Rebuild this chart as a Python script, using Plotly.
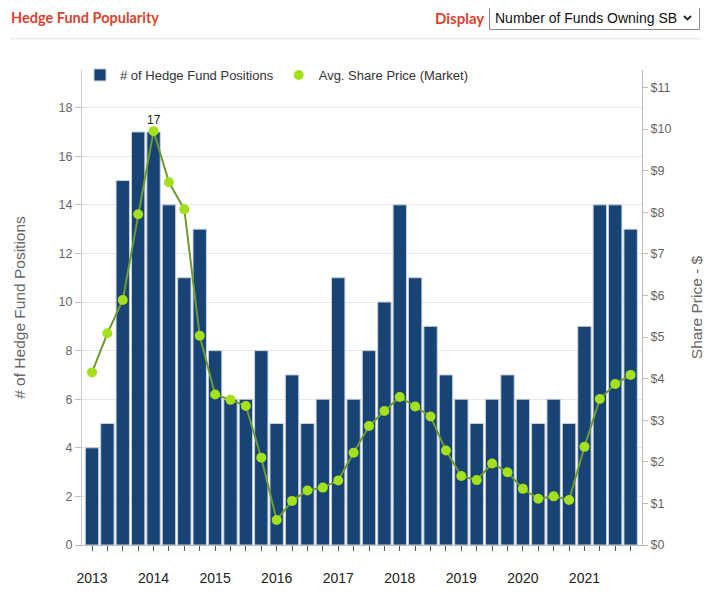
import plotly.graph_objects as go

quarters = [
    "Q1 2013", "Q2 2013", "Q3 2013", "Q4 2013",
    "Q1 2014", "Q2 2014", "Q3 2014", "Q4 2014",
    "Q1 2015", "Q2 2015", "Q3 2015", "Q4 2015",
    "Q1 2016", "Q2 2016", "Q3 2016", "Q4 2016",
    "Q1 2017", "Q2 2017", "Q3 2017", "Q4 2017",
    "Q1 2018", "Q2 2018", "Q3 2018", "Q4 2018",
    "Q1 2019", "Q2 2019", "Q3 2019", "Q4 2019",
    "Q1 2020", "Q2 2020", "Q3 2020", "Q4 2020",
    "Q1 2021", "Q2 2021", "Q3 2021", "Q4 2021",
]
hedge_fund_positions = [
    4, 5, 15, 17, 17, 14, 11, 13, 8, 6, 6, 8,
    5, 7, 5, 6, 11, 6, 8, 10, 14, 11, 9, 7,
    6, 5, 6, 7, 6, 5, 6, 5, 9, 14, 14, 13,
]
avg_share_price = [
    4.15, 5.09, 5.89, 7.95, 9.95, 8.72, 8.07, 5.03, 3.62, 3.49, 3.34, 2.10,
    0.60, 1.06, 1.31, 1.38, 1.55, 2.22, 2.86, 3.22, 3.56, 3.33, 3.09, 2.27,
    1.66, 1.56, 1.96, 1.75, 1.35, 1.11, 1.17, 1.08, 2.36, 3.51, 3.87, 4.09,
]
year_labels = ["2013", "2014", "2015", "2016", "2017", "2018", "2019", "2020", "2021"]

tick_text = []
yi = 0
for q in quarters:
    if q.startswith("Q1"):
        tick_text.append(year_labels[yi])
        yi += 1
    else:
        tick_text.append("")

# page has an 8px body margin; work in page px and convert
OFF = 8
W, H = 721 - OFF, 600 - OFF
L, R, T, B = 82 - OFF, 79, 70 - OFF, 55
PW, PH = W - L - R, H - T - B


def px(x):
    return (x - OFF - L) / PW


def py(y):
    return (H - B - (y - OFF)) / PH


BAR = "#174475"
GREEN = "#a4e01b"
LINE = "#6e9a31"
RED = "#d9432e"

fig = go.Figure()
fig.add_trace(go.Bar(
    x=quarters, y=hedge_fund_positions, name="# of Hedge Fund Positions",
    marker=dict(color=BAR, line=dict(color="#c9d1dc", width=1)),
    yaxis="y", hoverinfo="x+y",
))
fig.add_trace(go.Scatter(
    x=quarters, y=avg_share_price, mode="lines", showlegend=False,
    line=dict(color=LINE, width=2), yaxis="y2", hoverinfo="skip",
))
fig.add_trace(go.Scatter(
    x=quarters, y=avg_share_price, mode="markers", name="Avg. Share Price (Market)",
    marker=dict(color=GREEN, size=10), yaxis="y2",
))

# label for the maximum bar (last occurrence)
mx = max(hedge_fund_positions)
idx = len(hedge_fund_positions) - 1 - hedge_fund_positions[::-1].index(mx)
fig.add_annotation(x=quarters[idx], y=mx, xref="x", yref="y", text=str(mx),
                   showarrow=False, yanchor="bottom", yshift=3,
                   font=dict(size=12, color="#222", family="Liberation Sans"))

# header
fig.add_annotation(x=px(9), y=py(17), xref="paper", yref="paper", text="<b>Hedge Fund Popularity</b>",
                   showarrow=False, xanchor="left", yanchor="middle",
                   font=dict(size=14.5, color=RED, family="Lato"))
fig.add_annotation(x=px(486), y=py(18), xref="paper", yref="paper", text="<b>Display</b>",
                   showarrow=False, xanchor="right", yanchor="middle",
                   font=dict(size=15, color=RED, family="Lato"))
fig.add_shape(type="rect", xref="paper", yref="paper",
              x0=px(489.5), x1=px(699.5), y0=py(6.5), y1=py(29.5),
              line=dict(color="#8a8a8a", width=1), fillcolor="white")
fig.add_annotation(x=px(493), y=py(18), xref="paper", yref="paper", text="Number of Funds Owning SB",
                   showarrow=False, xanchor="left", yanchor="middle",
                   font=dict(size=14, color="#111", family="Liberation Sans"))
fig.add_shape(type="path", xref="paper", yref="paper",
              path=f"M {px(684)} {py(16)} L {px(687.5)} {py(19.5)} L {px(691)} {py(16)}",
              line=dict(color="#222", width=1.8))
fig.add_shape(type="line", xref="paper", yref="paper",
              x0=px(10), x1=px(700), y0=py(38.5), y1=py(38.5),
              line=dict(color="#eeeeee", width=2))

fig.update_layout(
    width=W, height=H,
    margin=dict(l=L, r=R, t=T, b=B),
    paper_bgcolor="white", plot_bgcolor="white",
    font=dict(family="Liberation Sans", color="#666"),
    bargap=0.13,
    showlegend=True,
    legend=dict(orientation="h", x=px(80), y=py(60), xanchor="left", yanchor="top",
                font=dict(size=13, color="#333"), itemwidth=30,
                bgcolor="rgba(0,0,0,0)", traceorder="normal"),
    xaxis=dict(
        type="category", range=[-0.65, 35.74],
        tickmode="array", tickvals=quarters, ticktext=tick_text,
        ticks="outside", ticklen=5, tickcolor="#555", tickwidth=1,
        showline=True, linecolor="#bbbbbb", linewidth=1,
        showgrid=False, zeroline=False,
        tickfont=dict(size=14, color="#222"), ticklabelstandoff=15,
        tickangle=0,
    ),
    yaxis=dict(
        range=[0, 19.55], dtick=2, tick0=0,
        ticks="outside", ticklen=6, tickcolor="#bbbbbb",
        showline=True, linecolor="#cccccc", linewidth=1,
        showgrid=True, gridcolor="#e6e6e6", gridwidth=1, zeroline=False,
        tickfont=dict(size=12.5, color="#666"),
        title=dict(text="# of Hedge Fund Positions", font=dict(size=15.5, color="#666"), standoff=29),
    ),
    yaxis2=dict(
        range=[0, 11.42], dtick=1, tick0=0, tickprefix="$",
        overlaying="y", side="right",
        ticks="outside", ticklen=5, tickcolor="#bbbbbb",
        showline=True, linecolor="#bbbbbb", linewidth=1,
        showgrid=False, zeroline=False,
        tickfont=dict(size=12.5, color="#666"),
        title=dict(text="Share Price - $", font=dict(size=15.5, color="#666"), standoff=20),
    ),
)

fig.write_html("out.html")
